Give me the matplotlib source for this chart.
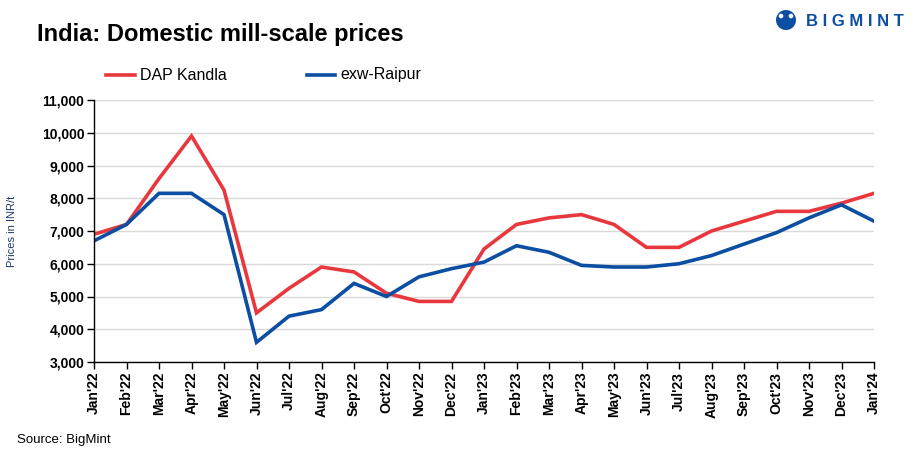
import matplotlib
matplotlib.use("Agg")
import matplotlib.pyplot as plt
from matplotlib.patches import Circle
from matplotlib.lines import Line2D

plt.rcParams['font.family'] = ['Liberation Sans', 'DejaVu Sans']

months = ["Jan'22", "Feb'22", "Mar'22", "Apr'22", "May'22", "Jun'22", "Jul'22", "Aug'22",
          "Sep'22", "Oct'22", "Nov'22", "Dec'22", "Jan'23", "Feb'23", "Mar'23", "Apr'23",
          "May'23", "Jun'23", "Jul'23", "Aug'23", "Sep'23", "Oct'23", "Nov'23", "Dec'23", "Jan'24"]
dap_kandla = [6900, 7200, 8600, 9900, 8250, 4500, 5250, 5900, 5750, 5100, 4850, 4850, 6450,
              7200, 7400, 7500, 7200, 6500, 6500, 7000, 7300, 7600, 7600, 7850, 8150]
exw_raipur = [6700, 7200, 8150, 8150, 7500, 3600, 4400, 4600, 5400, 5000, 5600, 5850, 6050,
              6550, 6350, 5950, 5900, 5900, 6000, 6250, 6600, 6950, 7400, 7800, 7300]
yticks = list(range(3000, 11001, 1000))
series_names = ['DAP Kandla', 'exw-Raipur']

W, H = 918, 457
fig = plt.figure(figsize=(W / 100, H / 100), dpi=100)
ax = fig.add_axes([94 / W, 1 - 362 / H, (874 - 94) / W, (362 - 100) / H])

x = list(range(len(months)))
red = '#E8383D'
blue = '#0B4EA2'
l1, = ax.plot(x, dap_kandla, color=red, lw=2.6, label=series_names[0], solid_joinstyle='miter')
l2, = ax.plot(x, exw_raipur, color=blue, lw=2.6, label=series_names[1], solid_joinstyle='miter')

ax.set_xlim(0, len(months) - 1)
ax.set_ylim(3000, 11000)
ax.set_yticks(yticks)
ax.set_yticklabels([f"{v:,}" for v in yticks], fontsize=10, fontweight='bold')
ax.set_xticks(x)
ax.set_xticklabels(months, rotation=90, fontsize=10, fontweight='bold')
ax.tick_params(axis='both', direction='out', length=5, width=1, color='black')
ax.tick_params(axis='x', pad=2)
ax.tick_params(axis='y', pad=2)
ax.grid(axis='y', color='#D9D9D9', lw=1)
ax.set_axisbelow(True)
for s in ['top', 'right']:
    ax.spines[s].set_visible(False)
for s in ['left', 'bottom']:
    ax.spines[s].set_color('black')
    ax.spines[s].set_linewidth(1)

ax.set_ylabel('Prices in INR/t', fontsize=8, color='#1F3864')
ax.yaxis.set_label_coords(-77 / (874 - 94), 0.5)

fig.text(37 / W, 1 - 35 / H, 'India: Domestic mill-scale prices', fontsize=17, fontweight='bold',
         va='center', ha='left')

# overlay axes in pixel coords for legend and logo
ov = fig.add_axes([0, 0, 1, 1], facecolor='none')
ov.set_axis_off()
ov.set_xlim(0, W)
ov.set_ylim(H, 0)

ov.add_line(Line2D([106, 135], [75, 75], color=red, lw=2.6))
ov.text(140, 75, series_names[0], fontsize=11.5, va='center', ha='left')
ov.add_line(Line2D([307, 335], [75, 75], color=blue, lw=2.6))
ov.text(340, 75, series_names[1], fontsize=11.5, va='center', ha='left')

fig.text(17 / W, 1 - 440 / H, 'Source: BigMint', fontsize=9.5, va='center', ha='left')

# logo
ov.add_patch(Circle((786, 20), 10, facecolor=blue, edgecolor='none'))
ov.add_patch(Circle((781, 16), 2.3, facecolor='white', edgecolor='none'))
ov.add_patch(Circle((791, 16), 2.3, facecolor='white', edgecolor='none'))
ov.text(806, 21, 'B I G M I N T', fontsize=12, fontweight='bold', color=blue,
        va='center', ha='left')

fig.savefig('out.png', dpi=100)
